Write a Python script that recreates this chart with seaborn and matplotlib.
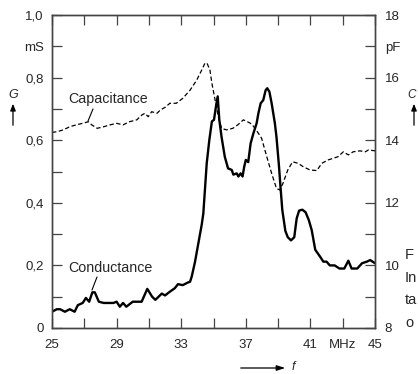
import matplotlib
matplotlib.use("Agg")
import matplotlib.pyplot as plt
import seaborn as sns
import pandas as pd

# Conductance G (mS) versus frequency f (MHz)
freq_g = [25.0, 25.3, 25.5, 25.8, 26.1, 26.4, 26.6, 26.9, 27.1, 27.3, 27.5, 27.65,
          27.9, 28.2, 28.8, 29.0, 29.2, 29.4, 29.6, 30.0, 30.55, 30.9, 31.2, 31.4,
          31.8, 32.0, 32.3, 32.6, 32.8, 33.1, 33.4, 33.55, 33.65, 33.85, 34.06,
          34.27, 34.37, 34.58, 34.74, 34.9, 35.03, 35.15, 35.26, 35.36, 35.5, 35.7,
          35.9, 36.13, 36.23, 36.44, 36.54, 36.68, 36.8, 36.9, 37.0, 37.15, 37.3,
          37.46, 37.67, 37.78, 37.92, 38.08, 38.23, 38.33, 38.46, 38.6, 38.8, 38.9,
          39.05, 39.15, 39.26, 39.45, 39.6, 39.8, 40.0, 40.15, 40.3, 40.5, 40.7,
          40.9, 41.08, 41.3, 41.6, 41.8, 42.0, 42.2, 42.5, 42.8, 43.1, 43.35,
          43.55, 43.9, 44.2, 44.5, 44.7, 45.0]
conductance = [0.052, 0.06, 0.06, 0.052, 0.06, 0.052, 0.073, 0.08, 0.096, 0.084, 0.114,
               0.114, 0.084, 0.08, 0.08, 0.084, 0.068, 0.08, 0.068, 0.084, 0.084, 0.125,
               0.1, 0.09, 0.11, 0.104, 0.116, 0.127, 0.14, 0.137, 0.145, 0.148, 0.164,
               0.21, 0.27, 0.33, 0.366, 0.526, 0.60, 0.66, 0.665, 0.707, 0.74, 0.665,
               0.61, 0.547, 0.51, 0.505, 0.49, 0.494, 0.484, 0.494, 0.484, 0.515, 0.537,
               0.53, 0.59, 0.62, 0.654, 0.686, 0.718, 0.728, 0.76, 0.766, 0.755, 0.718,
               0.654, 0.61, 0.52, 0.45, 0.377, 0.31, 0.29, 0.28, 0.29, 0.35, 0.375,
               0.378, 0.37, 0.345, 0.313, 0.25, 0.228, 0.212, 0.212, 0.2, 0.2, 0.19,
               0.19, 0.215, 0.19, 0.19, 0.207, 0.212, 0.217, 0.207]

# Capacitance C (pF) versus frequency f (MHz)
freq_c = [25.0, 25.3, 25.7, 26.1, 26.5, 26.9, 27.25, 27.46, 27.8, 28.2, 28.6, 29.0,
          29.4, 29.8, 30.25, 30.55, 30.75, 30.96, 31.17, 31.5, 31.7, 32.0, 32.3,
          32.7, 33.1, 33.55, 33.96, 34.27, 34.47, 34.6, 34.78, 34.9, 35.1, 35.3,
          35.5, 35.8, 36.2, 36.5, 36.85, 37.06, 37.25, 37.4, 37.57, 37.78, 37.98,
          38.3, 38.6, 38.9, 39.1, 39.3, 39.6, 39.9, 40.25, 40.56, 40.97, 41.4,
          41.7, 42.1, 42.4, 42.7, 43.04, 43.35, 43.65, 44.07, 44.4, 44.6, 45.0]
capacitance = [14.25, 14.27, 14.33, 14.43, 14.49, 14.54, 14.59, 14.49, 14.38, 14.43,
               14.49, 14.54, 14.49, 14.59, 14.65, 14.8, 14.86, 14.75, 14.91, 14.86,
               14.96, 15.05, 15.18, 15.18, 15.34, 15.6, 15.92, 16.24, 16.46, 16.46,
               16.24, 15.82, 15.28, 14.75, 14.38, 14.33, 14.38, 14.49, 14.65, 14.6,
               14.55, 14.49, 14.38, 14.22, 14.06, 13.47, 12.94, 12.46, 12.41, 12.62,
               13.05, 13.31, 13.26, 13.15, 13.05, 13.03, 13.26, 13.37, 13.42, 13.47,
               13.63, 13.53, 13.63, 13.66, 13.63, 13.69, 13.66]

# Axis tick positions and labels
x_ticks = [25, 27, 29, 31, 33, 35, 37, 39, 41, 43, 45]
x_labels = ["25", "", "29", "", "33", "", "37", "", "41", "MHz", "45"]
g_ticks = [0.0, 0.1, 0.2, 0.3, 0.4, 0.5, 0.6, 0.7, 0.8, 0.9, 1.0]
g_labels = ["0", "", "0,2", "", "0,4", "", "0,6", "", "0,8", "mS", "1,0"]
c_ticks = [8, 9, 10, 11, 12, 13, 14, 15, 16, 17, 18]
c_labels = ["8", "", "10", "", "12", "", "14", "", "16", "pF", "18"]

sns.set_style("white")
plt.rcParams["font.family"] = ["Liberation Sans", "DejaVu Sans"]

W, H = 418, 374
fig = plt.figure(figsize=(W / 100, H / 100), dpi=100)
L, R, T, B = 52, 375, 15, 328
ax = fig.add_axes([L / W, 1 - B / H, (R - L) / W, (B - T) / H])
ax2 = ax.twinx()

df_g = pd.DataFrame({"f": freq_g, "G": conductance})
df_c = pd.DataFrame({"f": freq_c, "C": capacitance})

sns.lineplot(data=df_g, x="f", y="G", ax=ax, color="black", linewidth=1.7,
             estimator=None, sort=False)
sns.lineplot(data=df_c, x="f", y="C", ax=ax2, color="black", linewidth=0.9,
             estimator=None, sort=False, dashes=False)
ax2.lines[0].set_linestyle((0, (3.5, 2.0)))

ax.set_xlim(25, 45)
ax.set_ylim(0, 1.0)
ax2.set_ylim(8, 18)

ax.set_xticks(x_ticks)
ax.set_xticklabels(x_labels)
ax.set_yticks(g_ticks)
ax.set_yticklabels(g_labels)
ax2.set_yticks(c_ticks)
ax2.set_yticklabels(c_labels)
ax.set_xlabel("")
ax.set_ylabel("")
ax2.set_ylabel("")

for a in (ax, ax2):
    for s in a.spines.values():
        s.set_linewidth(1.0)
        s.set_color("#444444")
        s.set_visible(True)

ax.tick_params(axis="x", which="both", direction="in", top=True, bottom=True,
               length=7, width=0.9, color="#444444", pad=8, labelsize=9.5)
ax.tick_params(axis="y", direction="in", left=True, right=False,
               length=7, width=0.9, color="#444444", pad=6, labelsize=9.5)
ax2.tick_params(axis="y", direction="in", right=True, left=False,
                length=7, width=0.9, color="#444444", pad=7, labelsize=9.5)


def fx(x):
    return x / W


def fy(y):
    return 1 - y / H


# Curve captions with leader lines
fig.text(fx(68), fy(99), "Capacitance", fontsize=10.3, ha="left", va="center")
fig.add_artist(plt.Line2D([fx(93), fx(88)], [fy(109), fy(121)], color="black", lw=0.8))
fig.text(fx(68), fy(268), "Conductance", fontsize=10.3, ha="left", va="center")
fig.add_artist(plt.Line2D([fx(97), fx(92)], [fy(277), fy(290)], color="black", lw=0.8))

# Quantity symbols with arrows
fig.text(fx(13), fy(95), "G", fontsize=9, style="italic", ha="center", va="center")
fig.add_artist(matplotlib.patches.FancyArrowPatch(
    (fx(13), fy(128)), (fx(13), fy(101)), transform=fig.transFigure,
    arrowstyle="-|>,head_length=4,head_width=1.6", color="black", lw=0.9))
fig.text(fx(412), fy(95), "C", fontsize=8.5, style="italic", ha="center", va="center")
fig.add_artist(matplotlib.patches.FancyArrowPatch(
    (fx(414), fy(128)), (fx(414), fy(101)), transform=fig.transFigure,
    arrowstyle="-|>,head_length=4,head_width=1.6", color="black", lw=0.9))
fig.add_artist(matplotlib.patches.FancyArrowPatch(
    (fx(238), fy(368)), (fx(288), fy(368)), transform=fig.transFigure,
    arrowstyle="-|>,head_length=5,head_width=1.6", color="black", lw=0.9))
fig.text(fx(293), fy(367), "f", fontsize=9, style="italic", ha="center", va="center")

# Caption beside the chart
for txt, yy in [("F", 255), ("In", 278), ("ta", 300), ("o", 323)]:
    fig.text(fx(405), fy(yy), txt, fontsize=10.5, ha="left", va="center")

fig.savefig("out.png", dpi=100)
